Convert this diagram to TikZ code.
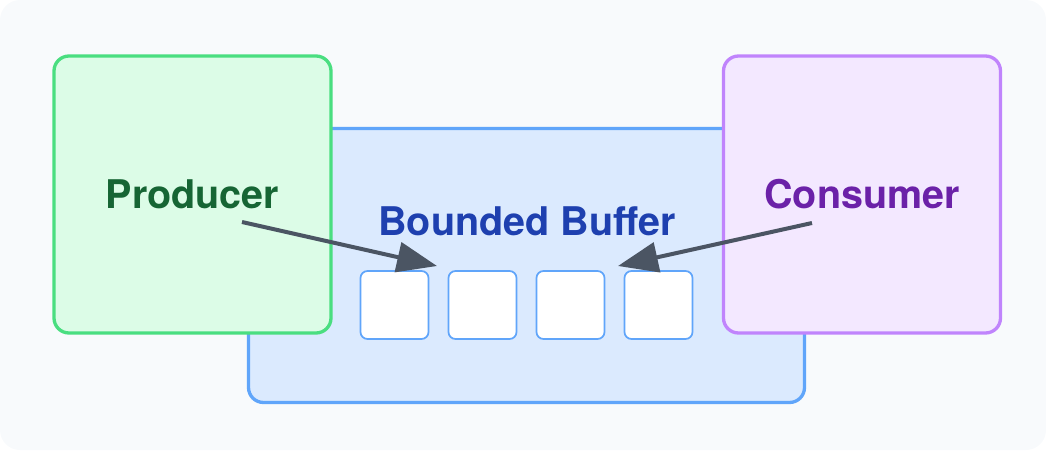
\documentclass[tikz,border=0pt]{standalone}
\usepackage{fontspec}
\setmainfont{TeX Gyre Heros}
\usetikzlibrary{arrows.meta}
\definecolor{bgGray}{HTML}{F8FAFC}
\definecolor{prodLine}{HTML}{4ADE80}
\definecolor{prodFill}{HTML}{DCFCE7}
\definecolor{prodText}{HTML}{166534}
\definecolor{bufLine}{HTML}{60A5FA}
\definecolor{bufFill}{HTML}{DBEAFE}
\definecolor{bufText}{HTML}{1E40AF}
\definecolor{consLine}{HTML}{C084FC}
\definecolor{consFill}{HTML}{F3E8FF}
\definecolor{consText}{HTML}{6B21A8}
\definecolor{arrowGray}{HTML}{4B5563}
\def\bigLabel{\fontsize{39.5}{46}\selectfont\bfseries}

\begin{document}
\begin{tikzpicture}[x=1pt, y=-1pt,
  bigbox/.style={rectangle, rounded corners=15pt, line width=3.3pt,
    minimum width=277pt, minimum height=277pt, inner sep=0pt,
    font=\bigLabel},
  slot/.style={rectangle, rounded corners=7pt, line width=1.7pt,
    draw=bufLine, fill=white, minimum width=68pt, minimum height=68pt},
  flow/.style={draw=arrowGray, line width=4pt,
    -{Triangle[length=40pt, width=30pt]}}]
  \useasboundingbox (0,0) rectangle (1046,450);
  \fill[bgGray, rounded corners=20pt] (0,0) rectangle (1046,450);
  % buffer behind the two parties
  \node[rectangle, rounded corners=15pt, line width=3.3pt, draw=bufLine,
    fill=bufFill, minimum width=556pt, minimum height=274pt]
    (buffer) at (526.5,265.5) {};
  \node[bigbox, draw=prodLine, fill=prodFill, text=prodText]
    (producer) at (192.5,194.5) {Producer};
  \node[bigbox, draw=consLine, fill=consFill, text=consText]
    (consumer) at (862,194.5) {Consumer};
  \node[font=\fontsize{39.5}{46}\selectfont\bfseries, text=bufText,
    anchor=base] (title) at (527,235) {Bounded Buffer};
  % slots
  \foreach \i in {0,...,3}
    \node[slot] (slot\i) at (394.5+88*\i,305) {};
  % arrows
  \coordinate (prodOut) at (242,222);
  \coordinate (prodIn) at (437,266);
  \coordinate (consOut) at (812,223);
  \coordinate (consIn) at (618,266);
  \draw[flow] (prodOut) -- (prodIn);
  \draw[flow] (consOut) -- (consIn);
\end{tikzpicture}
\end{document}
